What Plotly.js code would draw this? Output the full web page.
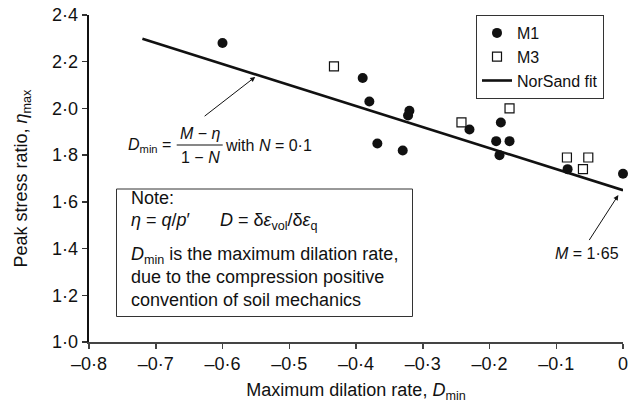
<!DOCTYPE html>
<html>
<head>
<meta charset="utf-8">
<script src="https://cdn.plot.ly/plotly-3.0.1.min.js"></script>
<style>html,body{margin:0;padding:0;background:#fff;}#chart{width:640px;height:410px;}</style>
</head>
<body>
<div id="chart"></div>
<script>
// ---- data ----
const m1X = [-0.60, -0.39, -0.38, -0.32, -0.322, -0.368, -0.33, -0.23, -0.183, -0.19, -0.17, -0.185, -0.083, 0.0];
const m1Y = [2.28, 2.13, 2.03, 1.99, 1.97, 1.85, 1.82, 1.91, 1.94, 1.86, 1.86, 1.80, 1.74, 1.72];
const m3X = [-0.433, -0.17, -0.242, -0.084, -0.052, -0.06];
const m3Y = [2.18, 2.00, 1.94, 1.79, 1.79, 1.74];
const fitX = [-0.72, 0.0];
const fitY = [2.298, 1.65];
const xTickVals = [-0.8, -0.7, -0.6, -0.5, -0.4, -0.3, -0.2, -0.1, 0];
const xTickText = ['\u20130\u00b78', '\u20130\u00b77', '\u20130\u00b76', '\u20130\u00b75', '\u20130\u00b74', '\u20130\u00b73', '\u20130\u00b72', '\u20130\u00b71', '0'];
const yTickVals = [1.0, 1.2, 1.4, 1.6, 1.8, 2.0, 2.2, 2.4];
const yTickText = ['1\u00b70', '1\u00b72', '1\u00b74', '1\u00b76', '1\u00b78', '2\u00b70', '2\u00b72', '2\u00b74'];

// ---- layout helpers (pixel -> paper) ----
const L = 89, T = 15, W = 534, H = 327;
const px = v => (v - L) / W;
const py = v => (T + H - v) / H;
const FONT = '"Liberation Sans", Arial, Helvetica, sans-serif';

const traces = [
  {x: m1X, y: m1Y, type: 'scatter', mode: 'markers', name: 'M1', cliponaxis: false,
   marker: {symbol: 'circle', size: 10, color: '#111'}},
  {x: m3X, y: m3Y, type: 'scatter', mode: 'markers', name: 'M3', cliponaxis: false,
   marker: {symbol: 'square-open', size: 9, color: '#111', line: {width: 1.2, color: '#111'}}},
  {x: fitX, y: fitY, type: 'scatter', mode: 'lines', name: 'NorSand fit', cliponaxis: false,
   line: {color: '#111', width: 2.6}}
];

function txt(text, x, y, size, xanchor) {
  return {text: text, xref: 'paper', yref: 'paper', x: px(x), y: py(y), showarrow: false,
          xanchor: xanchor || 'left', yanchor: 'middle', font: {family: FONT, size: size, color: '#111'}};
}

const annotations = [
  // fraction formula
  txt('<i>D</i><sub>min</sub> =', 126, 145.7, 16, 'left'),
  txt('<i>M</i> \u2212 <i>\u03b7</i>', 200, 133.3, 16, 'center'),
  txt('1 \u2212 <i>N</i>', 200, 157.5, 16, 'center'),
  txt('with <i>N</i> = 0\u00b71', 222.5, 145.7, 16, 'left'),
  // arrow to the fit line
  {x: -0.551, y: 2.135, ax: -0.629, ay: 1.962, xref: 'x', yref: 'y', axref: 'x', ayref: 'y',
   text: '', showarrow: true, arrowhead: 2, arrowsize: 1, arrowwidth: 1, arrowcolor: '#111'},
  // M = 1.65
  txt('<i>M</i> = 1\u00b765', 586.7, 253.3, 16, 'center'),
  {x: -0.007, y: 1.629, ax: -0.052, ay: 1.430, xref: 'x', yref: 'y', axref: 'x', ayref: 'y',
   text: '', showarrow: true, arrowhead: 2, arrowsize: 1, arrowwidth: 1, arrowcolor: '#111'},
  // note box
  txt('Note:', 129, 198.3, 18),
  txt('<i>\u03b7</i> = <i>q</i>/<i>p</i>\u2032', 129, 220, 18),
  txt('<i>D</i> = \u03b4<i>\u03b5</i><sub>vol</sub>/\u03b4<i>\u03b5</i><sub>q</sub>', 218, 221.5, 18),
  txt('<i>D</i><sub>min</sub> is the maximum dilation rate,', 129, 255.5, 18),
  txt('due to the compression positive', 129, 276.7, 18),
  txt('convention of soil mechanics', 129, 300, 18)
];

const shapes = [
  {type: 'line', xref: 'paper', yref: 'paper', x0: px(176.7), x1: px(222.7), y0: py(145), y1: py(145),
   line: {color: '#111', width: 1.2}},
  {type: 'rect', xref: 'paper', yref: 'paper', x0: px(116.5), x1: px(412.5), y0: py(189), y1: py(316.5),
   line: {color: '#333', width: 1}, fillcolor: 'rgba(0,0,0,0)'}
];

const layout = {
  width: 640, height: 410,
  margin: {l: L, r: 640 - L - W, t: T, b: 410 - T - H, pad: 0},
  paper_bgcolor: '#fff', plot_bgcolor: '#fff',
  font: {family: FONT, size: 18, color: '#111'},
  showlegend: true,
  legend: {x: px(476), y: py(15), xanchor: 'left', yanchor: 'top', bgcolor: '#fff',
           bordercolor: '#333', borderwidth: 1, font: {family: FONT, size: 16, color: '#111'},
           tracegroupgap: 0, itemwidth: 30},
  xaxis: {range: [-0.8, 0], tickvals: xTickVals, ticktext: xTickText, showgrid: false, zeroline: false,
          showline: true, linecolor: '#444', linewidth: 1.5, ticks: 'outside', ticklen: 5, tickwidth: 1.5,
          tickcolor: '#444', tickfont: {family: FONT, size: 18, color: '#111'}, automargin: false,
          title: {text: 'Maximum dilation rate, <i>D</i><sub>min</sub>', font: {family: FONT, size: 18, color: '#111'}, standoff: 10}},
  yaxis: {range: [1.0, 2.4], tickvals: yTickVals, ticktext: yTickText, showgrid: false, zeroline: false,
          showline: true, linecolor: '#111', linewidth: 2.5, ticks: 'outside', ticklen: 5, tickwidth: 1.5,
          tickcolor: '#333', tickfont: {family: FONT, size: 18, color: '#111'}, automargin: false,
          title: {text: 'Peak stress ratio, <i>\u03b7</i><sub>max</sub>', font: {family: FONT, size: 18, color: '#111'}, standoff: 20}},
  annotations: annotations,
  shapes: shapes
};

Plotly.newPlot('chart', traces, layout, {displayModeBar: false, staticPlot: true});
</script>
</body>
</html>
